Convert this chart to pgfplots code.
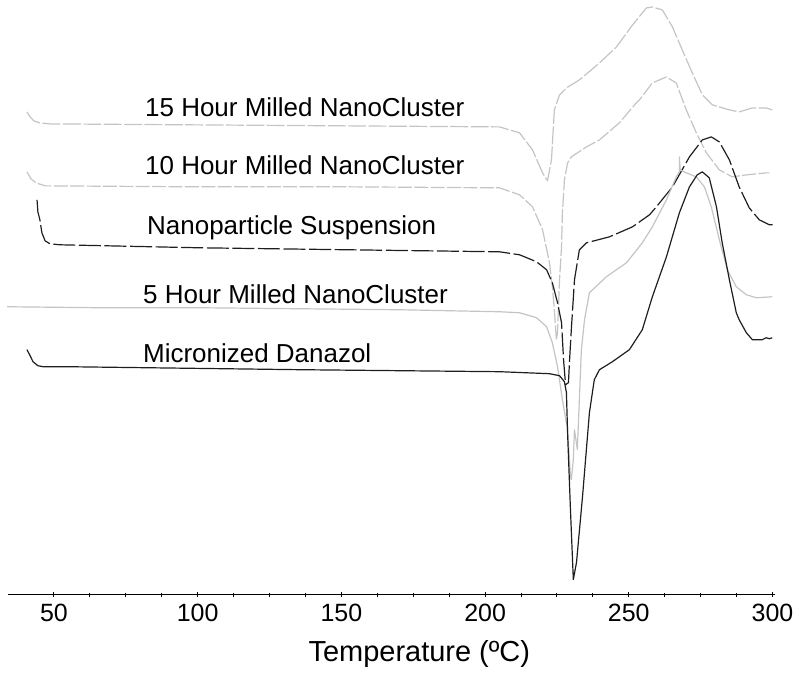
\documentclass[border=0pt]{standalone}
\usepackage{fontspec}
\setmainfont{Liberation Sans}
\usepackage{pgfplots}
\pgfplotsset{compat=1.18}

\definecolor{lightc}{HTML}{C4C4C4}
\definecolor{darkc}{HTML}{1E1E1E}
\tikzset{curvelab/.style={font=\fontsize{13}{13}\selectfont, inner sep=0pt, anchor=base west}}

% DSC traces, x in deg C, y in arbitrary (stacked) heat-flow units
\pgfplotstableread{
T y
40.6 483
41.7 478
43.0 474
45.1 472
48.6 471
100.7 470
152.9 469
205.0 468
212.0 462
216.5 445
220.0 422
221.7 414
223.1 435
224.1 485
225.9 500
228.3 507
232.8 515
239.8 532
245.7 548
251.3 570
256.1 587
258.2 588
261.7 585
265.2 568
268.6 545
272.1 522
275.6 500
279.1 490
285.0 485
288.4 483
293.0 487
297.8 487
299.9 485
}\hfifteen

\pgfplotstableread{
T y
40.6 423
42.0 416
43.7 412
46.9 409
100.7 408
152.9 408
205.0 407
212.0 400
216.5 388
220.0 365
222.4 332
223.4 308
224.1 285
224.8 255
225.2 262
225.9 315
226.6 348
226.9 382
227.6 415
228.7 432
230.0 438
235.3 448
239.8 455
246.7 472
252.6 492
253.7 495
258.2 512
263.1 518
266.5 512
270.0 485
273.5 462
277.0 442
281.5 425
286.0 418
290.9 420
297.8 422
298.9 422
}\hten

\pgfplotstableread{
T y
44.1 395
44.4 383
45.1 375
45.8 362
46.9 354
48.6 351
52.1 350
100.7 347
152.9 345
205.0 343
212.0 340
217.9 333
221.4 325
223.4 312
225.2 292
226.6 272
227.3 235
228.0 210
229.0 212
229.4 235
230.0 265
231.1 315
232.8 345
235.3 352
243.3 358
251.3 368
257.2 380
259.6 388
265.2 408
271.1 438
275.6 455
278.7 458
281.5 453
285.0 435
288.4 408
291.9 387
295.4 375
298.9 370
301.0 370
}\nano

\pgfplotstableread{
T y
33.7 288
66.0 287
100.7 287
170.3 285
205.0 283
212.0 282
217.9 277
221.4 268
223.4 252
225.2 228
226.9 195
228.7 165
229.7 118
230.0 115
230.7 135
231.1 165
232.1 145
232.8 195
233.5 245
234.6 275
236.3 302
242.2 318
249.2 332
254.7 352
258.2 368
263.1 395
266.5 418
267.6 423
267.6 438
267.9 425
270.0 422
273.5 418
276.3 408
278.7 388
281.5 355
284.3 325
287.4 308
290.9 300
294.4 297
299.9 298
}\hfive

\pgfplotstableread{
T y
40.6 245
41.7 239
42.7 233
44.4 229
46.2 228
54.5 228
135.5 225
205.0 223
222.4 221
225.9 219
227.6 213
228.3 202
228.7 162
229.7 85
230.7 15
231.8 32
233.9 98
236.3 182
238.0 215
239.8 225
244.3 233
250.2 245
254.7 265
258.2 298
263.1 338
267.6 382
271.1 408
273.8 420
275.6 423
278.0 417
280.5 388
282.5 352
285.0 315
287.4 282
288.4 275
290.9 262
293.0 255
296.4 255
297.8 257
298.9 256
299.9 257
}\micro

\begin{document}
\begin{tikzpicture}
\begin{axis}[
  scale only axis, width=384pt, height=297.5pt,
  xmin=34, xmax=301, ymin=0, ymax=595,
  axis x line*=bottom, axis y line=none,
  xtick={50,100,150,200,250,300}, minor x tick num=3,
  ytick=\empty,
  tick align=center, major tick length=2.2pt, minor tick length=2pt,
  x axis line style={line width=0.5pt},
  tick style={line width=0.5pt, black},
  /pgf/number format/assume math mode=true,
  xticklabel style={font=\fontsize{12.5}{12.5}\selectfont},
  xlabel={Temperature (ºC)},
  xlabel style={font=\fontsize{14.5}{14.5}\selectfont,
    at={(axis description cs:0.536,0)}, anchor=center, yshift=-30pt},
  clip=false,
  every axis plot/.append style={line width=0.6pt, line join=round},
]
\addplot[lightc, dash pattern=on 9pt off 1.2pt] table {\hfifteen};
\addplot[lightc, dash pattern=on 7pt off 1.2pt] table {\hten};
\addplot[darkc, dash pattern=on 11pt off 1.8pt] table {\nano};
\addplot[lightc] table {\hfive};
\addplot[darkc] table {\micro};

\node[curvelab] at (axis cs:81.6,478) {15 Hour Milled NanoCluster};
\node[curvelab] at (axis cs:81.6,420) {10 Hour Milled NanoCluster};
\node[curvelab] at (axis cs:82.3,360) {Nanoparticle Suspension};
\node[curvelab] at (axis cs:80.9,291) {5 Hour Milled NanoCluster};
\node[curvelab] at (axis cs:80.9,232) {Micronized Danazol};
% page margins as in the reference
\path (rel axis cs:0,1) ++(-4pt,0pt) (rel axis cs:1,0) ++(12pt,-39.5pt);
\end{axis}
\end{tikzpicture}
\end{document}
